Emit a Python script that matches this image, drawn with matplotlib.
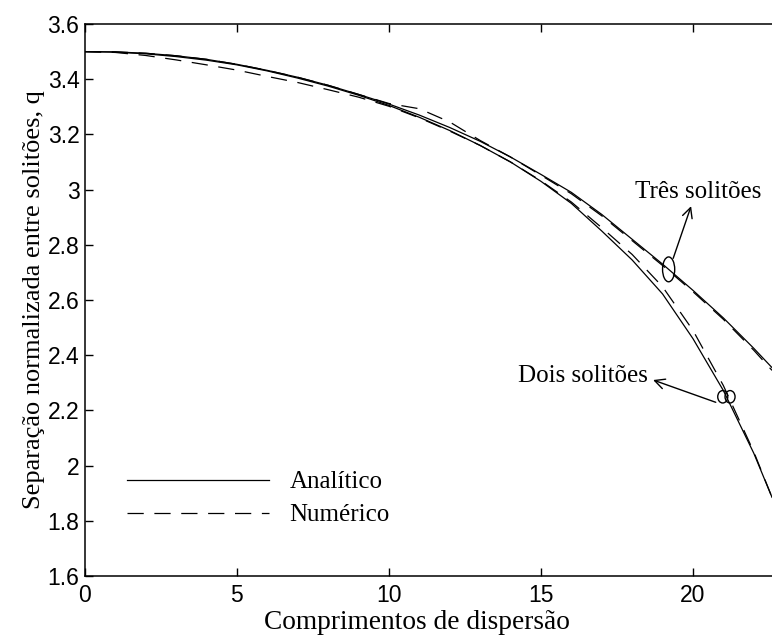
"""Separação normalizada entre solitões: analítico x numérico."""

import matplotlib

matplotlib.use("Agg")
import matplotlib.pyplot as plt
import numpy as np
from matplotlib.patches import Ellipse

# Comprimentos de dispersão (eixo x).
z = [0, 1, 2, 3, 4, 5, 6, 7, 8, 9, 10, 11, 12, 13, 14, 15, 16, 17, 18, 19,
     20, 21, 22, 22.6]

# Dois solitões.
q_dois_analitico = [3.500, 3.498, 3.492, 3.482, 3.469, 3.452, 3.430, 3.404,
                    3.375, 3.342, 3.305, 3.262, 3.214, 3.160, 3.100, 3.030,
                    2.950, 2.850, 2.745, 2.622, 2.460, 2.272, 2.045, 1.885]
q_dois_numerico = [3.500, 3.497, 3.486, 3.470, 3.452, 3.433, 3.410, 3.388,
                   3.362, 3.335, 3.302, 3.260, 3.212, 3.160, 3.100, 3.032,
                   2.955, 2.862, 2.765, 2.648, 2.490, 2.290, 2.050, 1.885]

# Três solitões.
q_tres_analitico = [3.500, 3.499, 3.494, 3.485, 3.472, 3.454, 3.432, 3.407,
                    3.378, 3.345, 3.310, 3.270, 3.225, 3.175, 3.118, 3.055,
                    2.990, 2.910, 2.820, 2.730, 2.635, 2.535, 2.425, 2.355]
q_tres_numerico = [3.500, 3.499, 3.494, 3.485, 3.472, 3.454, 3.432, 3.407,
                   3.378, 3.345, 3.312, 3.293, 3.245, 3.178, 3.118, 3.052,
                   2.985, 2.905, 2.815, 2.725, 2.630, 2.530, 2.418, 2.345]

x_ticks = [0, 5, 10, 15, 20]
y_ticks = [1.6, 1.8, 2.0, 2.2, 2.4, 2.6, 2.8, 3.0, 3.2, 3.4, 3.6]
y_tick_labels = ["1.6", "1.8", "2", "2.2", "2.4", "2.6", "2.8", "3", "3.2",
                 "3.4", "3.6"]

# Pontos marcados pelas elipses.
z_marca_tres = 19.2
z_marca_dois = 21.1

SERIF = "Liberation Serif"
SANS = "Liberation Sans"
DASHES = (13, 8.5)

fig = plt.figure(figsize=(7.72, 6.37), dpi=100)
ax = fig.add_axes([0.110, 0.0958, 0.89, 0.8665])

ax.plot(z, q_dois_analitico, color="black", lw=0.9, label="Analítico")
ax.plot(z, q_dois_numerico, color="black", lw=0.9, dashes=DASHES,
        label="Numérico")
ax.plot(z, q_tres_analitico, color="black", lw=0.9)
ax.plot(z, q_tres_numerico, color="black", lw=0.9, dashes=DASHES)

ax.set_xlim(0, 22.6)
ax.set_ylim(1.6, 3.6)
ax.set_xticks(x_ticks)
ax.set_xticklabels([str(t) for t in x_ticks], family=SANS, fontsize=16.5)
ax.set_yticks(y_ticks)
ax.set_yticklabels(y_tick_labels, family=SANS, fontsize=16.5)
ax.tick_params(direction="in", length=6, width=1, top=True, right=False)
ax.tick_params(axis="y", pad=4)
ax.tick_params(axis="x", pad=6)
ax.spines["right"].set_visible(False)
for side in ("left", "top", "bottom"):
    ax.spines[side].set_linewidth(1.1)

ax.set_xlabel("Comprimentos de dispersão", family=SERIF, fontsize=19.7)
ax.xaxis.set_label_coords(0.483, -0.062)
ax.set_ylabel("Separação normalizada entre solitões, q", family=SERIF,
              fontsize=19, labelpad=2)

# Elipses e setas de anotação.
q_tres = np.interp(z_marca_tres, z, q_tres_analitico)
ax.add_patch(Ellipse((z_marca_tres, q_tres), 0.4, 0.09, fill=False,
                     lw=1.0, color="black"))
ax.annotate("Três solitões", xy=(z_marca_tres + 0.15, q_tres + 0.04),
            xytext=(18.1, 2.99), family=SERIF, fontsize=18, va="center",
            ha="left",
            arrowprops=dict(arrowstyle="<-", color="black", lw=1.0,
                            shrinkA=0, shrinkB=0,
                            relpos=(0.45, 0.0)))

q_dois = np.interp(z_marca_dois, z, q_dois_analitico)
for dz in (-0.12, 0.12):
    ax.add_patch(Ellipse((z_marca_dois + dz, q_dois), 0.33, 0.045,
                         fill=False, lw=1.0, color="black"))
ax.annotate("Dois solitões", xy=(z_marca_dois - 0.35, q_dois - 0.02),
            xytext=(14.24, 2.325), family=SERIF, fontsize=18, va="center",
            ha="left",
            arrowprops=dict(arrowstyle="<-", color="black", lw=1.0,
                            shrinkA=2, shrinkB=0, relpos=(1.0, 0.4)))

ax.legend(loc="center left", bbox_to_anchor=(0.061, 0.14), frameon=False,
          prop={"family": SERIF, "size": 18}, handlelength=5.7,
          handletextpad=0.8, labelspacing=0.42, borderpad=0,
          borderaxespad=0)

fig.savefig("out.png", dpi=100)
